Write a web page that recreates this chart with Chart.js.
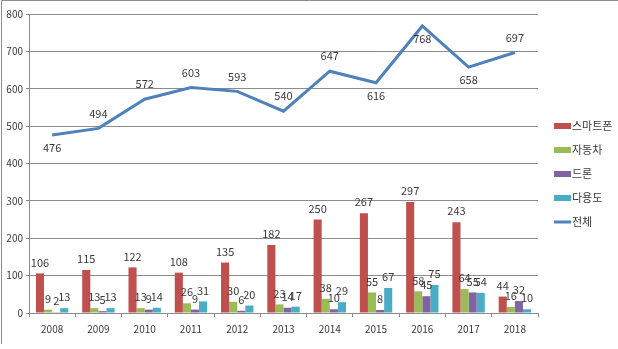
<!DOCTYPE html>
<html>
<head>
<meta charset="utf-8">
<script src="https://cdn.jsdelivr.net/npm/chart.js@4/dist/chart.umd.min.js"></script>
<style>
  html, body { margin: 0; padding: 0; background: #fff; }
  #wrap { width: 618px; height: 349px; position: relative; }
</style>
</head>
<body>
<div id="wrap"><canvas id="chart" width="618" height="349"></canvas></div>
<script>
// yearly counts per field
const years = ['2008', '2009', '2010', '2011', '2012', '2013', '2014', '2015', '2016', '2017', '2018'];
const smartphone = [106, 115, 122, 108, 135, 182, 250, 267, 297, 243, 44];
const car = [9, 13, 13, 26, 30, 23, 38, 55, 58, 64, 16];
const drone = [2, 5, 9, 9, 6, 14, 10, 8, 45, 55, 32];
const multiUse = [13, 13, 14, 31, 20, 17, 29, 67, 75, 54, 10];
const total = [476, 494, 572, 603, 593, 540, 647, 616, 768, 658, 697];
const seriesNames = ['스마트폰', '자동차', '드론', '다용도', '전체'];
const yTicks = [0, 100, 200, 300, 400, 500, 600, 700, 800];

// where each total label sits relative to its point
const totalLabelSide = ['below', 'above', 'above', 'above', 'above', 'above', 'above', 'below', 'below', 'below', 'above'];

const colors = ['#C0504D', '#9BBB59', '#8064A2', '#4BACC6', '#4F81BD'];
const FONT = '"Noto Sans CJK KR", "Noto Sans", sans-serif';
const TEXT = '#3a3a3a';

const labelPlugin = {
  id: 'valueLabels',
  afterDatasetsDraw(chart) {
    const ctx = chart.ctx;
    ctx.save();
    ctx.font = '11px ' + FONT;
    ctx.fillStyle = TEXT;
    ctx.textAlign = 'center';
    ctx.textBaseline = 'middle';
    chart.data.datasets.forEach((ds, i) => {
      const meta = chart.getDatasetMeta(i);
      meta.data.forEach((el, j) => {
        const v = ds.data[j];
        if (ds.type === 'line') {
          const dy = totalLabelSide[j] === 'above' ? -15 : 13;
          ctx.fillText(String(v), el.x, el.y + dy);
        } else {
          ctx.fillText(String(v), el.x, el.y - 11);
        }
      });
    });
    ctx.restore();
  }
};

const legendPlugin = {
  id: 'sideLegend',
  afterDraw(chart) {
    const ctx = chart.ctx;
    ctx.save();
    ctx.font = '11px ' + FONT;
    ctx.fillStyle = TEXT;
    ctx.textBaseline = 'middle';
    seriesNames.forEach((name, i) => {
      const y = 126 + i * 24;
      ctx.fillStyle = colors[i];
      if (i < 4) {
        ctx.fillRect(554, y - 3, 17, 6);
      } else {
        ctx.fillRect(554, y - 1.5, 17, 3);
      }
      ctx.fillStyle = TEXT;
      ctx.fillText(name, 572, y);
    });
    // frame edges along the top and left
    ctx.strokeStyle = '#8c8c8c';
    ctx.lineWidth = 1;
    ctx.beginPath();
    ctx.moveTo(1.5, 344);
    ctx.lineTo(1.5, 0.5);
    ctx.lineTo(618, 0.5);
    ctx.stroke();
    ctx.restore();
  }
};

const barSet = (label, data, color) => ({
  type: 'bar',
  label: label,
  data: data,
  backgroundColor: color,
  borderWidth: 0,
  categoryPercentage: 0.7,
  barPercentage: 1.0,
  order: 2
});

new Chart(document.getElementById('chart').getContext('2d'), {
  data: {
    labels: years,
    datasets: [
      barSet(seriesNames[0], smartphone, colors[0]),
      barSet(seriesNames[1], car, colors[1]),
      barSet(seriesNames[2], drone, colors[2]),
      barSet(seriesNames[3], multiUse, colors[3]),
      {
        type: 'line',
        label: seriesNames[4],
        data: total,
        borderColor: colors[4],
        borderWidth: 3,
        pointRadius: 0,
        tension: 0,
        order: 1
      }
    ]
  },
  options: {
    responsive: false,
    animation: false,
    layout: { padding: { left: 2, right: 80, top: 14, bottom: 0 } },
    plugins: {
      legend: { display: false },
      tooltip: { enabled: false }
    },
    scales: {
      x: {
        offset: true,
        grid: {
          offset: true,
          drawOnChartArea: false,
          drawTicks: true,
          tickLength: 4,
          color: '#8c8c8c'
        },
        border: { color: '#8c8c8c' },
        ticks: {
          color: TEXT,
          font: { family: FONT, size: 10 },
          padding: 6,
          maxRotation: 0
        },
        afterFit: (scale) => { scale.height = 36; }
      },
      y: {
        min: 0,
        max: 800,
        afterBuildTicks: (scale) => { scale.ticks = yTicks.map(v => ({ value: v })); },
        grid: {
          color: '#8c8c8c',
          drawTicks: true,
          tickLength: 3
        },
        border: { color: '#8c8c8c' },
        ticks: {
          color: TEXT,
          font: { family: FONT, size: 10 },
          padding: 3
        },
        afterFit: (scale) => { scale.width = 27; }
      }
    }
  },
  plugins: [labelPlugin, legendPlugin]
});
</script>
</body>
</html>
